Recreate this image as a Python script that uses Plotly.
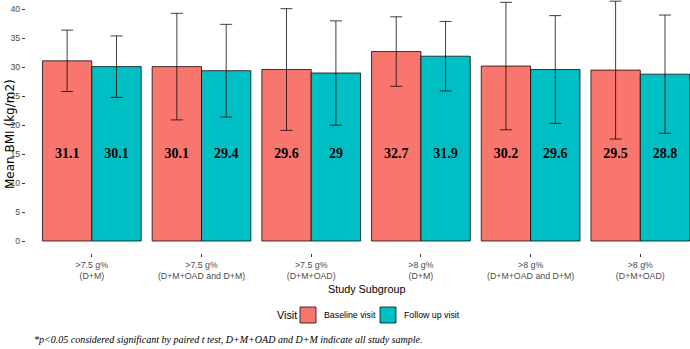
import plotly.graph_objects as go

groups = [">7.5 g%<br>(D+M)", ">7.5 g%<br>(D+M+OAD and D+M)", ">7.5 g%<br>(D+M+OAD)",
          ">8 g%<br>(D+M)", ">8 g%<br>(D+M+OAD and D+M)", ">8 g%<br>(D+M+OAD)"]
baseline = [31.1, 30.1, 29.6, 32.7, 30.2, 29.5]
followup = [30.1, 29.4, 29.0, 31.9, 29.6, 28.8]
baseline_sd = [5.3, 9.2, 10.5, 6.0, 11.0, 11.9]
followup_sd = [5.3, 8.0, 9.0, 6.0, 9.3, 10.2]
baseline_labels = ["31.1", "30.1", "29.6", "32.7", "30.2", "29.5"]
followup_labels = ["30.1", "29.4", "29", "31.9", "29.6", "28.8"]
label_y = 15
y_ticks = [0, 5, 10, 15, 20, 25, 30, 35, 40]
series_names = ["Baseline visit", "Follow up visit"]
series_colors = ["#F8766D", "#00BFC4"]

W, H = 690, 349
ML, MR, MT, MB = 26, 0, 0, 96
PW, PH = W - ML - MR, H - MT - MB


def px_x(p):
    return (p - ML) / PW


def px_y(p):
    return (MT + PH - p) / PH


pos = list(range(len(groups)))
bar_w = 0.45
edge_col = "rgba(0,0,0,0.75)"

fig = go.Figure()
err_style = dict(type="data", visible=True, color=edge_col, thickness=1, width=6)
for vals, sds, name, col in [(baseline, baseline_sd, series_names[0], series_colors[0]),
                             (followup, followup_sd, series_names[1], series_colors[1])]:
    fig.add_trace(go.Bar(x=pos, y=vals, name=name, showlegend=False,
                         marker=dict(color=col, line=dict(color=edge_col, width=1)),
                         error_y=dict(array=sds, **err_style)))

txt_font = dict(family="Liberation Serif", size=14, color="black")
for offs, labels in [(-bar_w / 2, baseline_labels), (bar_w / 2, followup_labels)]:
    fig.add_trace(go.Scatter(x=[p + offs for p in pos], y=[label_y] * len(pos), mode="text",
                             text=[f"<b>{t}</b>" for t in labels], textfont=txt_font,
                             showlegend=False, hoverinfo="skip"))

tick_font = dict(family="Liberation Sans", size=8.8, color="#4D4D4D")
sans = "Liberation Sans"

annotations = [
    # axis titles
    dict(text="Study Subgroup", x=px_x(366), y=px_y(289), xanchor="center", yanchor="middle",
         font=dict(family=sans, size=10.8, color="black")),
    dict(text="Mean BMI (kg/m2)", x=px_x(10), y=px_y(134), xanchor="center", yanchor="middle",
         textangle=-90, font=dict(family="DejaVu Sans", size=12, color="black")),
    # legend texts
    dict(text="Visit", x=px_x(275), y=px_y(315), xanchor="left", yanchor="middle",
         font=dict(family=sans, size=10.8, color="black")),
    dict(text=series_names[0], x=px_x(322), y=px_y(315), xanchor="left", yanchor="middle",
         font=dict(family=sans, size=8.8, color="black")),
    dict(text=series_names[1], x=px_x(402), y=px_y(315), xanchor="left", yanchor="middle",
         font=dict(family=sans, size=8.8, color="black")),
    # caption
    dict(text="<i>*p&lt;0.05 considered significant by paired t test, D+M+OAD and D+M indicate all study sample.</i>",
         x=px_x(32), y=px_y(339), xanchor="left", yanchor="middle",
         font=dict(family="Liberation Serif", size=10, color="black")),
]
for a in annotations:
    a.update(xref="paper", yref="paper", showarrow=False)

shapes = []
for x0, col in [(300, series_colors[0]), (380, series_colors[1])]:
    shapes.append(dict(type="rect", xref="paper", yref="paper", x0=px_x(x0), x1=px_x(x0 + 16),
                       y0=px_y(307), y1=px_y(323), fillcolor=col, line=dict(color=edge_col, width=1)))

fig.update_layout(
    width=W, height=H,
    margin=dict(l=ML, r=MR, t=MT, b=MB),
    plot_bgcolor="white", paper_bgcolor="white",
    barmode="group", bargap=0.1, bargroupgap=0,
    showlegend=False,
    xaxis=dict(range=[-0.6, 5.453], tickvals=pos, ticktext=groups, showgrid=False, zeroline=False,
               showline=False, ticks="outside", ticklen=3, tickcolor="#333333", tickfont=tick_font),
    yaxis=dict(range=[-2.07, 41.6], tickvals=y_ticks, showgrid=False, zeroline=False, showline=False,
               ticks="outside", ticklen=3, tickcolor="#333333", tickfont=tick_font),
    annotations=annotations,
    shapes=shapes,
)

fig.write_html("out.html", config={"displayModeBar": False},
               post_script="document.body.style.margin='0px';")
